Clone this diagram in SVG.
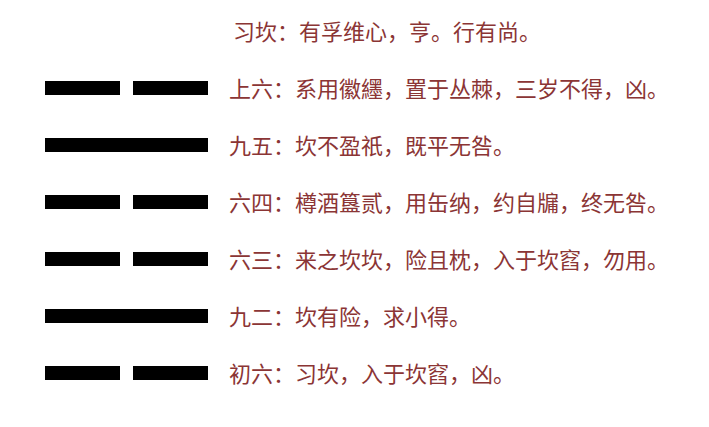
<svg xmlns="http://www.w3.org/2000/svg" width="709" height="427" viewBox="0 0 709 427">
<style>
text{font-family:"Noto Sans CJK SC",sans-serif;font-size:22px;fill:#8b3535}
.b{fill:#000}
</style>
<rect width="709" height="427" fill="#fff"/>
<text x="233" y="40">习坎：有孚维心，亨。行有尚。</text>
<g id="l6"><rect class="b" x="45" y="81" width="75" height="14"/><rect class="b" x="133" y="81" width="75" height="14"/><text x="229" y="97">上六：系用徽纆，置于丛棘，三岁不得，凶。</text></g>
<g id="l5"><rect class="b" x="45" y="138" width="163" height="14"/><text x="229" y="154">九五：坎不盈祇，既平无咎。</text></g>
<g id="l4"><rect class="b" x="45" y="195" width="75" height="14"/><rect class="b" x="133" y="195" width="75" height="14"/><text x="229" y="211">六四：樽酒簋贰，用缶纳，约自牖，终无咎。</text></g>
<g id="l3"><rect class="b" x="45" y="252" width="75" height="14"/><rect class="b" x="133" y="252" width="75" height="14"/><text x="229" y="268">六三：来之坎坎，险且枕，入于坎窞，勿用。</text></g>
<g id="l2"><rect class="b" x="45" y="309" width="163" height="14"/><text x="229" y="325">九二：坎有险，求小得。</text></g>
<g id="l1"><rect class="b" x="45" y="366" width="75" height="14"/><rect class="b" x="133" y="366" width="75" height="14"/><text x="229" y="382">初六：习坎，入于坎窞，凶。</text></g>
<g id="connectors"/>
</svg>
